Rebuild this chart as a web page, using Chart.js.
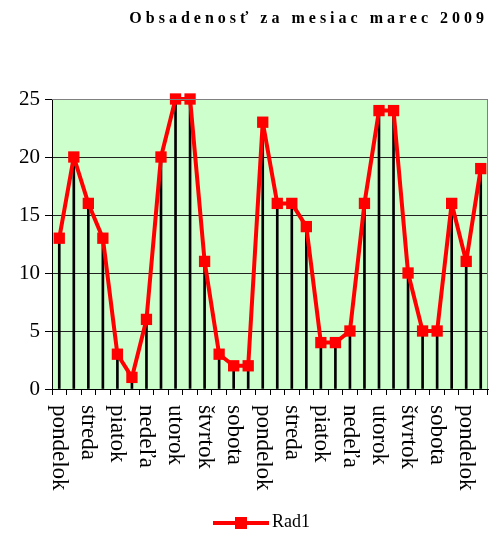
<!DOCTYPE html>
<html>
<head>
<meta charset="utf-8">
<script src="https://cdn.jsdelivr.net/npm/chart.js@4.4.0/dist/chart.umd.min.js"></script>
<style>
  body { margin: 0; background: #fff; }
  #wrap { position: relative; width: 489px; height: 544px; }
  #title {
    position: absolute; top: 9px; right: 1px;
    font: bold 16px "Liberation Serif", serif; letter-spacing: 4px; white-space: nowrap;
  }
  #legend {
    position: absolute; top: 511px; left: 213px;
    font: 18px "Liberation Serif", serif; white-space: nowrap;
  }
  #legend .sym { display: inline-block; position: relative; width: 56px; height: 12px; vertical-align: middle; margin-right: 3px; }
  #legend .sym:before { content: ""; position: absolute; left: 0; right: 0; top: 4px; height: 4px; background: #f00; }
  #legend .sym:after { content: ""; position: absolute; left: 22px; top: 0; width: 12px; height: 12px; background: #f00; }
</style>
</head>
<body>
<div id="wrap">
  <canvas id="chart"></canvas>
  <div id="title">Obsadenosť za mesiac marec 2009</div>
  <div id="legend"><span class="sym"></span>Rad1</div>
</div>
<script>
// dni v mesiaci (30 bodov)
const days = ['pondelok','utorok','streda','štvrtok','piatok','sobota','nedeľa',
              'pondelok','utorok','streda','štvrtok','piatok','sobota','nedeľa',
              'pondelok','utorok','streda','štvrtok','piatok','sobota','nedeľa',
              'pondelok','utorok','streda','štvrtok','piatok','sobota','nedeľa',
              'pondelok','utorok'];
const rad1 = [13,20,16,13,3,1,6,20,25,25,11,3,2,2,23,16,16,14,4,4,5,16,24,24,10,5,5,16,11,19];
const yTicks = [0,5,10,15,20,25];

// pozadie a okraj grafu
const plotArea = {
  id: 'plotArea',
  beforeDraw(chart) {
    const a = chart.chartArea, ctx = chart.ctx;
    ctx.save();
    ctx.fillStyle = '#ccffcc';
    ctx.fillRect(a.left, a.top, a.right - a.left, a.bottom - a.top);
    ctx.restore();
  },
  afterDatasetsDraw(chart) {
    const a = chart.chartArea, ctx = chart.ctx;
    ctx.save();
    ctx.strokeStyle = '#808080';
    ctx.lineWidth = 1;
    ctx.beginPath();
    ctx.moveTo(a.left, a.top + 0.5);
    ctx.lineTo(a.right - 0.5, a.top + 0.5);
    ctx.lineTo(a.right - 0.5, a.bottom);
    ctx.stroke();
    ctx.restore();
  }
};

// popisky osi x otocene smerom dole
const xLabels = {
  id: 'xLabels',
  afterDraw(chart) {
    const x = chart.scales.x, ctx = chart.ctx;
    ctx.save();
    ctx.fillStyle = '#000';
    ctx.font = '23px "Liberation Serif", serif';
    ctx.textAlign = 'left';
    ctx.textBaseline = 'middle';
    for (let i = 0; i < days.length; i += 2) {
      ctx.save();
      ctx.translate(x.getPixelForValue(i), chart.chartArea.bottom + 16);
      ctx.rotate(Math.PI / 2);
      ctx.fillText(days[i], 0, 0);
      ctx.restore();
    }
    ctx.restore();
  }
};

new Chart(document.getElementById('chart'), {
  type: 'line',
  data: {
    labels: days,
    datasets: [
      {
        label: 'Rad1',
        data: rad1,
        borderColor: '#ff0000',
        backgroundColor: '#ff0000',
        borderWidth: 4,
        borderJoinStyle: 'round',
        pointStyle: 'rect',
        pointRadius: 8,
        pointBorderWidth: 0,
        tension: 0,
        clip: false,
        order: 0
      },
      {
        type: 'bar',
        label: 'drop',
        data: rad1,
        backgroundColor: '#000',
        barThickness: 2,
        order: 1
      }
    ]
  },
  options: {
    responsive: true,
    maintainAspectRatio: false,
    animation: false,
    layout: { autoPadding: false, padding: { top: 99, right: 1, bottom: 45, left: 0 } },
    plugins: {
      legend: { display: false },
      title: { display: false },
      tooltip: { enabled: false }
    },
    scales: {
      x: {
        offset: true,
        grid: { offset: true, drawOnChartArea: false, drawTicks: true, tickLength: 6, color: '#000' },
        border: { color: '#000', width: 1 },
        ticks: { display: false },
        afterFit(scale) { scale.height = 110; }
      },
      y: {
        min: 0,
        max: 25,
        afterBuildTicks(scale) { scale.ticks = yTicks.map(v => ({ value: v })); },
        grid: {
          color: ctx => ctx.tick && ctx.tick.value === 25 ? '#808080' : '#222',
          tickColor: '#000',
          tickLength: 7
        },
        border: { color: '#000', width: 1 },
        ticks: {
          color: '#000',
          padding: 5,
          font: { family: '"Liberation Serif", serif', size: 21 }
        },
        afterFit(scale) { scale.width = 52; }
      }
    }
  },
  plugins: [plotArea, xLabels]
});
</script>
</body>
</html>
